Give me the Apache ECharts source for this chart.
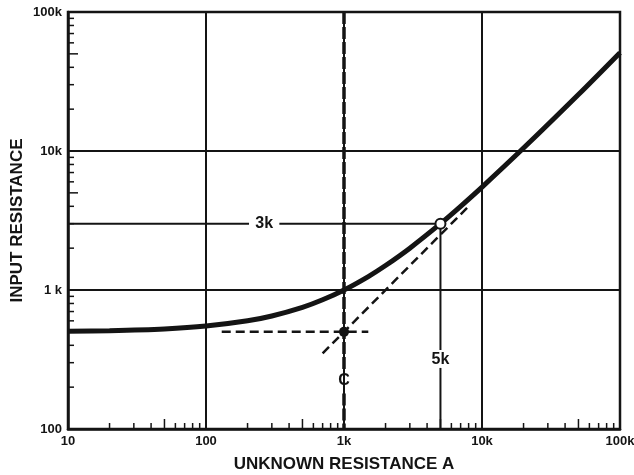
<!DOCTYPE html>
<html>
<head>
<meta charset="utf-8">
<script src="https://cdn.jsdelivr.net/npm/echarts@6/dist/echarts.min.js"></script>
<style>
  html, body { margin: 0; padding: 0; background: #fff; }
  #main { width: 634px; height: 475px; }
</style>
</head>
<body>
<div id="main"></div>
<script>
  var myChart = echarts.init(document.getElementById('main'));

  // curve: unknown resistance A -> input resistance
  let curveX = [10, 20, 50, 100, 200, 300, 500, 700, 1000, 1500, 2000, 3000, 5000, 7000, 10000, 20000, 50000, 100000];
  let curveY = [505, 510, 525, 550, 600, 650, 750, 850, 1000, 1250, 1500, 2000, 3000, 4000, 5500, 10500, 25500, 51000];

  // construction lines
  let hDash = [[130, 500], [1500, 500]];          // horizontal dashed at C
  let diagDash = [[700, 350], [8000, 4000]];      // asymptote
  let vDashTop = [[1000, 100000], [1000, 270]];   // vertical dashed at 1k
  let vDashBot = [[1000, 180], [1000, 100]];
  let line3kA = [[10, 3000], [205, 3000]];
  let line3kB = [[340, 3000], [5000, 3000]];
  let line5kA = [[5000, 3000], [5000, 370]];
  let line5kB = [[5000, 275], [5000, 100]];

  let openPt = [[5000, 3000]];
  let dotPt = [[1000, 500]];

  let notes = [
    { text: '3k', x: 264, y: 3000 },
    { text: '5k', x: 5000, y: 318 },
    { text: 'C', x: 1000, y: 222 }
  ];

  let xLabels = { 10: '10', 100: '100', 1000: '1k', 10000: '10k', 100000: '100k' };
  let yLabels = { 100: '100', 1000: '1 k', 10000: '10k', 100000: '100k' };

  let xMinor = [], yMinor = [];
  [10, 100, 1000, 10000].forEach(function (d) {
    for (let k = 2; k <= 9; k++) xMinor.push(d * k);
  });
  [100, 1000, 10000].forEach(function (d) {
    for (let k = 2; k <= 9; k++) yMinor.push(d * k);
  });

  let ink = '#141414';
  let font = 'Liberation Sans';

  function seg(data, dash, w) {
    return {
      type: 'line', data: data, symbol: 'none', silent: true, z: 3,
      lineStyle: { color: ink, width: w, type: dash || 'solid' }
    };
  }

  function leadDigit(v) {
    return Math.round(v / Math.pow(10, Math.floor(Math.log10(v) + 1e-9)));
  }

  var option = {
    backgroundColor: '#fff',
    animation: false,
    grid: {
      left: 68, right: 14, top: 12, bottom: 46, outerBoundsMode: 'none',
      show: true, borderColor: ink, borderWidth: 2.5
    },
    xAxis: {
      type: 'log', logBase: 10, min: 10, max: 100000,
      name: 'UNKNOWN RESISTANCE A', nameLocation: 'middle', nameGap: 27, nameMoveOverlap: false,
      nameTextStyle: { color: ink, fontFamily: font, fontWeight: 'bold', fontSize: 17 },
      axisLine: { lineStyle: { color: ink, width: 2.5 } },
      axisTick: { show: false },
      axisLabel: {
        color: ink, fontFamily: font, fontWeight: 'bold', fontSize: 13, margin: 6,
        formatter: function (v) { return xLabels[Math.round(v)] || ''; }
      },
      splitLine: { show: true, lineStyle: { color: ink, width: 2 } }
    },
    yAxis: {
      type: 'log', logBase: 10, min: 100, max: 100000,
      name: 'INPUT RESISTANCE', nameLocation: 'middle', nameGap: 42, nameMoveOverlap: false,
      nameTextStyle: { color: ink, fontFamily: font, fontWeight: 'bold', fontSize: 17 },
      axisLine: { lineStyle: { color: ink, width: 2.5 } },
      axisTick: { show: false },
      axisLabel: {
        color: ink, fontFamily: font, fontWeight: 'bold', fontSize: 13, margin: 6,
        formatter: function (v) { return yLabels[Math.round(v)] || ''; }
      },
      splitLine: { show: true, lineStyle: { color: ink, width: 2 } }
    },
    series: [
      {
        type: 'custom', silent: true, clip: false, z: 2,
        data: xMinor.map(function (v) { return [v, 100]; }),
        renderItem: function (params, api) {
          let v = api.value(0);
          let p = api.coord([v, 100]);
          let len = leadDigit(v) === 5 ? 10 : 6;
          return { type: 'line', shape: { x1: p[0], y1: p[1], x2: p[0], y2: p[1] - len }, style: { stroke: ink, lineWidth: 1.5 } };
        }
      },
      {
        type: 'custom', silent: true, clip: false, z: 2,
        data: yMinor.map(function (v) { return [10, v]; }),
        renderItem: function (params, api) {
          let v = api.value(1);
          let p = api.coord([10, v]);
          let len = leadDigit(v) === 5 ? 10 : 6;
          return { type: 'line', shape: { x1: p[0], y1: p[1], x2: p[0] + len, y2: p[1] }, style: { stroke: ink, lineWidth: 1.5 } };
        }
      },
      seg(hDash, [9, 5], 2.5),
      seg(diagDash, [9, 5], 2.5),
      seg(vDashTop, [12, 3], 3.5),
      seg(vDashBot, [12, 3], 3.5),
      seg(line3kA, null, 2),
      seg(line3kB, null, 2),
      seg(line5kA, null, 2),
      seg(line5kB, null, 2),
      {
        type: 'line', silent: true, z: 5, symbol: 'none', smooth: 0.3,
        data: curveX.map(function (x, i) { return [x, curveY[i]]; }),
        lineStyle: { color: ink, width: 5 }
      },
      {
        type: 'scatter', silent: true, z: 6, data: dotPt,
        symbol: 'circle', symbolSize: 10, itemStyle: { color: ink, opacity: 1 }
      },
      {
        type: 'scatter', silent: true, z: 6, data: openPt,
        symbol: 'circle', symbolSize: 10, itemStyle: { color: '#fff', borderColor: ink, borderWidth: 2, opacity: 1 }
      },
      {
        type: 'custom', silent: true, clip: false, z: 7,
        data: notes.map(function (n) { return [n.x, n.y]; }),
        renderItem: function (params, api) {
          let p = api.coord([api.value(0), api.value(1)]);
          return {
            type: 'text', x: p[0], y: p[1],
            style: {
              text: notes[params.dataIndex].text, fill: ink,
              fontFamily: font, fontWeight: 'bold', fontSize: 16,
              align: 'center', verticalAlign: 'middle'
            }
          };
        }
      }
    ]
  };

  myChart.setOption(option);
</script>
</body>
</html>
